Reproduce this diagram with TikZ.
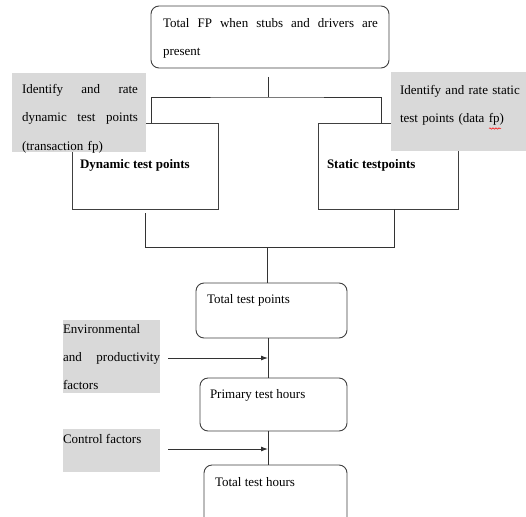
\documentclass[tikz,border=0pt]{standalone}
\usepackage{fontspec}
\setmainfont{Liberation Serif}
\usetikzlibrary{arrows.meta,calc,decorations.pathmorphing}
\begin{document}
\begin{tikzpicture}[x=1pt,y=-1pt,>={Latex[length=7pt,width=5pt]},line width=0.9pt,
  every node/.style={inner sep=0pt,outer sep=0pt},
  plainbox/.style={draw=black!75,fill=white,rectangle},
  roundbox/.style={draw=black!75,fill=white,rounded corners=8pt},
  greybox/.style={fill=black!15,rectangle},
  boxtext/.style={font=\fontsize{13}{28}\selectfont,anchor=base west,align=left},
  wire/.style={draw=black!80}]
\useasboundingbox (0,0) rectangle (526,516);
\clip (0,0) rectangle (526,516);
%%
  % Node: fptotal
  \node[roundbox,minimum width=238pt,minimum height=62pt] (fptotal) at (270,37) {};
  \node[boxtext,text width=215pt] (fptotaltext) at ($(fptotal.north west)+(12,22)$)
    {Total\hfill FP\hfill when\hfill stubs\hfill and\hfill drivers\hfill are\\present};
  % Node: dynbox
  \node[plainbox,minimum width=146pt,minimum height=86pt] (dynbox) at (145,166) {};
  \node[boxtext,font=\fontsize{13}{28}\selectfont\bfseries] (dyntext) at ($(dynbox.north west)+(8,45)$) {Dynamic test points};
  % Node: statbox
  \node[plainbox,minimum width=140pt,minimum height=86pt] (statbox) at (388,166) {};
  \node[boxtext,font=\fontsize{13}{28}\selectfont\bfseries] (stattext) at ($(statbox.north west)+(9,45)$) {Static testpoints};
  % Edge: fptotal -> dynbox, statbox
  \draw[wire] ($(fptotal.south)+(-2,9)$) -- ++(0,20) coordinate (split);
  \draw[wire] ($(dynbox.north)+(6,0)$) |- (split) -| ($(statbox.north)+(-7,0)$);
  % Node: dyngray
  \node[greybox,minimum width=134pt,minimum height=79pt] (dyngray) at (79,112.5) {};
\begin{scope}
  \clip (dyngray.north west) rectangle (dyngray.south east);
  \node[boxtext,text width=116pt,font=\fontsize{13}{28.5}\selectfont] (dyngraytext) at ($(dyngray.north west)+(10,20)$)
    {Identify\hfill and\hfill rate\\dynamic\hfill test\hfill points\\(transaction fp)};
\end{scope}
  % Node: statgray
  \node[greybox,minimum width=135pt,minimum height=78pt] (statgray) at (458.5,111.5) {};
  \node[boxtext,text width=125pt] (statgraytext) at ($(statgray.north west)+(9,22)$)
    {Identify and rate static\\test points (data fp)};
  \draw[red,line width=0.5pt,decorate,decoration={snake,amplitude=0.7pt,segment length=3pt}]
    ($(statgray.north west)+(98,56)$) -- ++(12,0);
  % Node: tpbox
  \node[roundbox,minimum width=151pt,minimum height=55pt] (tpbox) at (271.5,310.5) {};
  \node[boxtext] (tptext) at ($(tpbox.north west)+(11,20)$) {Total test points};
  % Edge: dynbox, statbox -> tpbox
  \draw[wire] ($(dynbox.south)+(0,4)$) -- ++(0,34) coordinate (dynjoin) -| ($(statbox.south)+(6,0)$);
  \coordinate (tpin) at ($(tpbox.north)+(-4,0)$);
  \draw[wire] (tpin |- dynjoin) -- (tpin);
  % Node: phbox
  \node[roundbox,minimum width=147pt,minimum height=53pt] (phbox) at (273.5,404.5) {};
  \node[boxtext] (phtext) at ($(phbox.north west)+(10,20)$) {Primary test hours};
  % Edge: tpbox -> phbox
  \coordinate (tpout) at ($(tpbox.south)+(-3.5,0)$);
  \draw[wire] (tpout) -- (tpout |- phbox.north);
  % Node: envgray
  \node[greybox,minimum width=97pt,minimum height=73pt] (envgray) at (111.5,356.5) {};
  \node[boxtext,text width=97pt] (envtext) at ($(envgray.north west)+(0,13)$)
    {Environmental\\and\hfill productivity\\factors};
  % Edge: envgray -> tpbox--phbox
  \coordinate (envtail) at ($(envgray.east)+(8,1.5)$);
  \draw[wire,->] (envtail) -- (envtail -| tpout);
  % Node: thbox
  \node[roundbox,minimum width=143pt,minimum height=60pt] (thbox) at (275.5,495) {};
  \node[boxtext] (thtext) at ($(thbox.north west)+(11,21)$) {Total test hours};
  % Edge: phbox -> thbox
  \coordinate (phout) at ($(phbox.south)+(-5.5,0)$);
  \draw[wire] (phout) -- (phout |- thbox.north);
  % Node: ctrlgray
  \node[greybox,minimum width=97pt,minimum height=43pt] (ctrlgray) at (111.5,450.5) {};
  \node[boxtext] (ctrltext) at ($(ctrlgray.north west)+(0,14)$) {Control factors};
  % Edge: ctrlgray -> phbox--thbox
  \coordinate (ctrltail) at ($(ctrlgray.east)+(8,-1.5)$);
  \draw[wire,->] (ctrltail) -- (ctrltail -| phout);
%
\end{tikzpicture}
\end{document}
